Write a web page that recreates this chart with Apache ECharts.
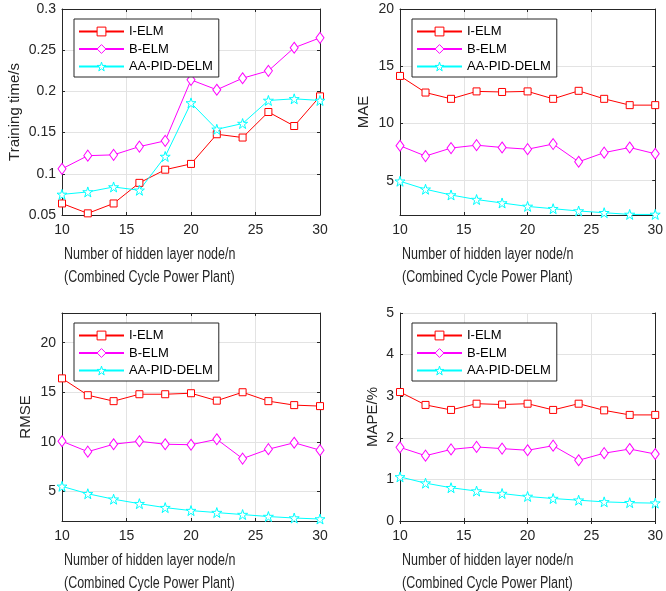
<!DOCTYPE html>
<html>
<head>
<meta charset="utf-8">
<title>ELM comparison</title>
<style>
  html, body { margin: 0; padding: 0; background: #fff; }
  #page { width: 666px; height: 591px; }
</style>
</head>
<body>
<div id="page"></div>
<script src="https://cdn.jsdelivr.net/npm/echarts@6/dist/echarts.min.js"></script>
<script>
// hidden layer nodes
var nodes = [10, 12, 14, 16, 18, 20, 22, 24, 26, 28, 30];
var names = ['I-ELM', 'B-ELM', 'AA-PID-DELM'];

// training time / s
var timeIELM = [0.064, 0.052, 0.064, 0.089, 0.105, 0.112, 0.148, 0.144, 0.175, 0.158, 0.194];
var timeBELM = [0.106, 0.122, 0.123, 0.133, 0.140, 0.214, 0.202, 0.216, 0.225, 0.253, 0.265];
var timeAA   = [0.075, 0.078, 0.084, 0.080, 0.121, 0.186, 0.154, 0.161, 0.189, 0.191, 0.189];

// MAE
var maeIELM = [14.15, 12.7, 12.15, 12.8, 12.75, 12.8, 12.15, 12.85, 12.15, 11.6, 11.6];
var maeBELM = [8.05, 7.15, 7.85, 8.1, 7.9, 7.75, 8.2, 6.65, 7.45, 7.9, 7.35];
var maeAA   = [4.95, 4.25, 3.75, 3.35, 3.05, 2.75, 2.55, 2.35, 2.2, 2.05, 2.05];

// RMSE
var rmseIELM = [16.4, 14.7, 14.1, 14.8, 14.8, 14.9, 14.15, 15.0, 14.1, 13.7, 13.6];
var rmseBELM = [10.05, 9.0, 9.75, 10.05, 9.75, 9.7, 10.25, 8.3, 9.25, 9.9, 9.15];
var rmseAA   = [5.5, 4.75, 4.2, 3.75, 3.35, 3.05, 2.85, 2.65, 2.45, 2.3, 2.2];

// MAPE / %
var mapeIELM = [3.1, 2.79, 2.67, 2.82, 2.8, 2.82, 2.67, 2.82, 2.66, 2.55, 2.55];
var mapeBELM = [1.77, 1.57, 1.72, 1.78, 1.74, 1.7, 1.81, 1.46, 1.63, 1.73, 1.61];
var mapeAA   = [1.06, 0.91, 0.8, 0.72, 0.66, 0.59, 0.54, 0.5, 0.46, 0.44, 0.43];

var yTicksMae = [5, 10, 15, 20];
var yTicksRmse = [5, 10, 15, 20];

(function () {
    var axisColor = '#262626';
    var gridColor = '#e3e3e3';
    var colors = ['#ff0000', '#ff00ff', '#00ffff'];
    var star = 'path://M50,2 L61,36 L97,36 L68,57 L79,92 L50,71 L21,92 L32,57 L3,36 L39,36 Z';
    var symbols = ['rect', 'diamond', star];
    var symbolSizes = [7, [8, 11], 10];
    var xTitle = 'Number of hidden layer node/n\n(Combined Cycle Power Plant)';

    // one panel per metric
    var panels = [
        {left: 62, top: 9, height: 206, yName: 'Training time/s', nameGap: 40, min: 0.05, max: 0.3, interval: 0.05, data: [timeIELM, timeBELM, timeAA]},
        {left: 400, top: 9, height: 206, yName: 'MAE', nameGap: 29, min: 2, max: 20, ticks: yTicksMae, data: [maeIELM, maeBELM, maeAA]},
        {left: 62, top: 313, height: 208, yName: 'RMSE', nameGap: 29, min: 2, max: 23, ticks: yTicksRmse, data: [rmseIELM, rmseBELM, rmseAA]},
        {left: 400, top: 313, height: 208, yName: 'MAPE/%', nameGap: 20, min: 0, max: 5, interval: 1, data: [mapeIELM, mapeBELM, mapeAA]}
    ];

    var grid = [], xAxis = [], yAxis = [], series = [], legend = [], graphic = [];

    panels.forEach(function (p, g) {
        grid.push({left: p.left, top: p.top, width: 258, height: p.height});

        var xBase = {
            type: 'value', gridIndex: g, min: 10, max: 30, interval: 5,
            axisLine: {show: true, lineStyle: {color: axisColor, width: 1}},
            axisTick: {show: true, inside: true, length: 3, lineStyle: {color: axisColor}}
        };
        xAxis.push(Object.assign({}, xBase, {
            position: 'bottom',
            axisLabel: {color: axisColor, fontSize: 14, fontFamily: 'Liberation Sans', margin: 8},
            splitLine: {show: true, lineStyle: {color: gridColor, width: 1}}
        }));
        xAxis.push(Object.assign({}, xBase, {
            position: 'top', axisLabel: {show: false}, splitLine: {show: false}
        }));

        var yBase = {
            type: 'value', gridIndex: g, min: p.min, max: p.max,
            axisLine: {show: true, lineStyle: {color: axisColor, width: 1}},
            axisTick: {show: true, inside: true, length: 3, lineStyle: {color: axisColor}}
        };
        if (p.interval) yBase.interval = p.interval;
        if (p.ticks) yBase.axisTick.customValues = p.ticks;

        var yMain = Object.assign({}, yBase, {
            position: 'left',
            name: p.yName, nameLocation: 'middle', nameGap: p.nameGap,
            nameTextStyle: {color: axisColor, fontSize: 15, fontFamily: 'Liberation Sans'},
            axisLabel: {color: axisColor, fontSize: 14, fontFamily: 'Liberation Sans', margin: 6},
            splitLine: {show: true, lineStyle: {color: gridColor, width: 1}}
        });
        if (p.ticks) yMain.axisLabel.customValues = p.ticks;
        yAxis.push(yMain);
        yAxis.push(Object.assign({}, yBase, {
            position: 'right', axisLabel: {show: false}, splitLine: {show: false}
        }));

        p.data.forEach(function (vals, k) {
            series.push({
                type: 'line', name: names[k],
                xAxisIndex: g * 2, yAxisIndex: g * 2,
                data: nodes.map(function (x, i) { return [x, vals[i]]; }),
                symbol: symbols[k], symbolSize: symbolSizes[k],
                lineStyle: {color: colors[k], width: 1},
                itemStyle: {color: '#fff', borderColor: colors[k], borderWidth: 1},
                emphasis: {disabled: true},
                clip: false, z: 3
            });
        });

        legend.push({
            data: names.map(function (n, k) {
                return {name: n, itemStyle: {color: '#fff', borderColor: colors[k], borderWidth: 1}};
            }),
            orient: 'vertical', left: p.left + 12, top: p.top + 10,
            padding: [6, 6, 4, 4], itemWidth: 45, itemHeight: 11, itemGap: 4.5,
            backgroundColor: '#fff', borderColor: axisColor, borderWidth: 1,
            textStyle: {color: '#000', fontSize: 13, fontFamily: 'Liberation Sans'}
        });

        // two-line x title, squeezed horizontally like the source figure
        graphic.push({
            type: 'text', x: p.left + 2, y: p.top + p.height + 28, scaleX: 0.78,
            style: {
                text: xTitle, fill: axisColor, fontSize: 16, lineHeight: 23,
                fontFamily: 'Liberation Sans', verticalAlign: 'top'
            }
        });
    });

    var chart = echarts.init(document.getElementById('page'));
    chart.setOption({
        animation: false,
        backgroundColor: '#fff',
        grid: grid, xAxis: xAxis, yAxis: yAxis,
        legend: legend, series: series, graphic: graphic
    });
})();
</script>
</body>
</html>
